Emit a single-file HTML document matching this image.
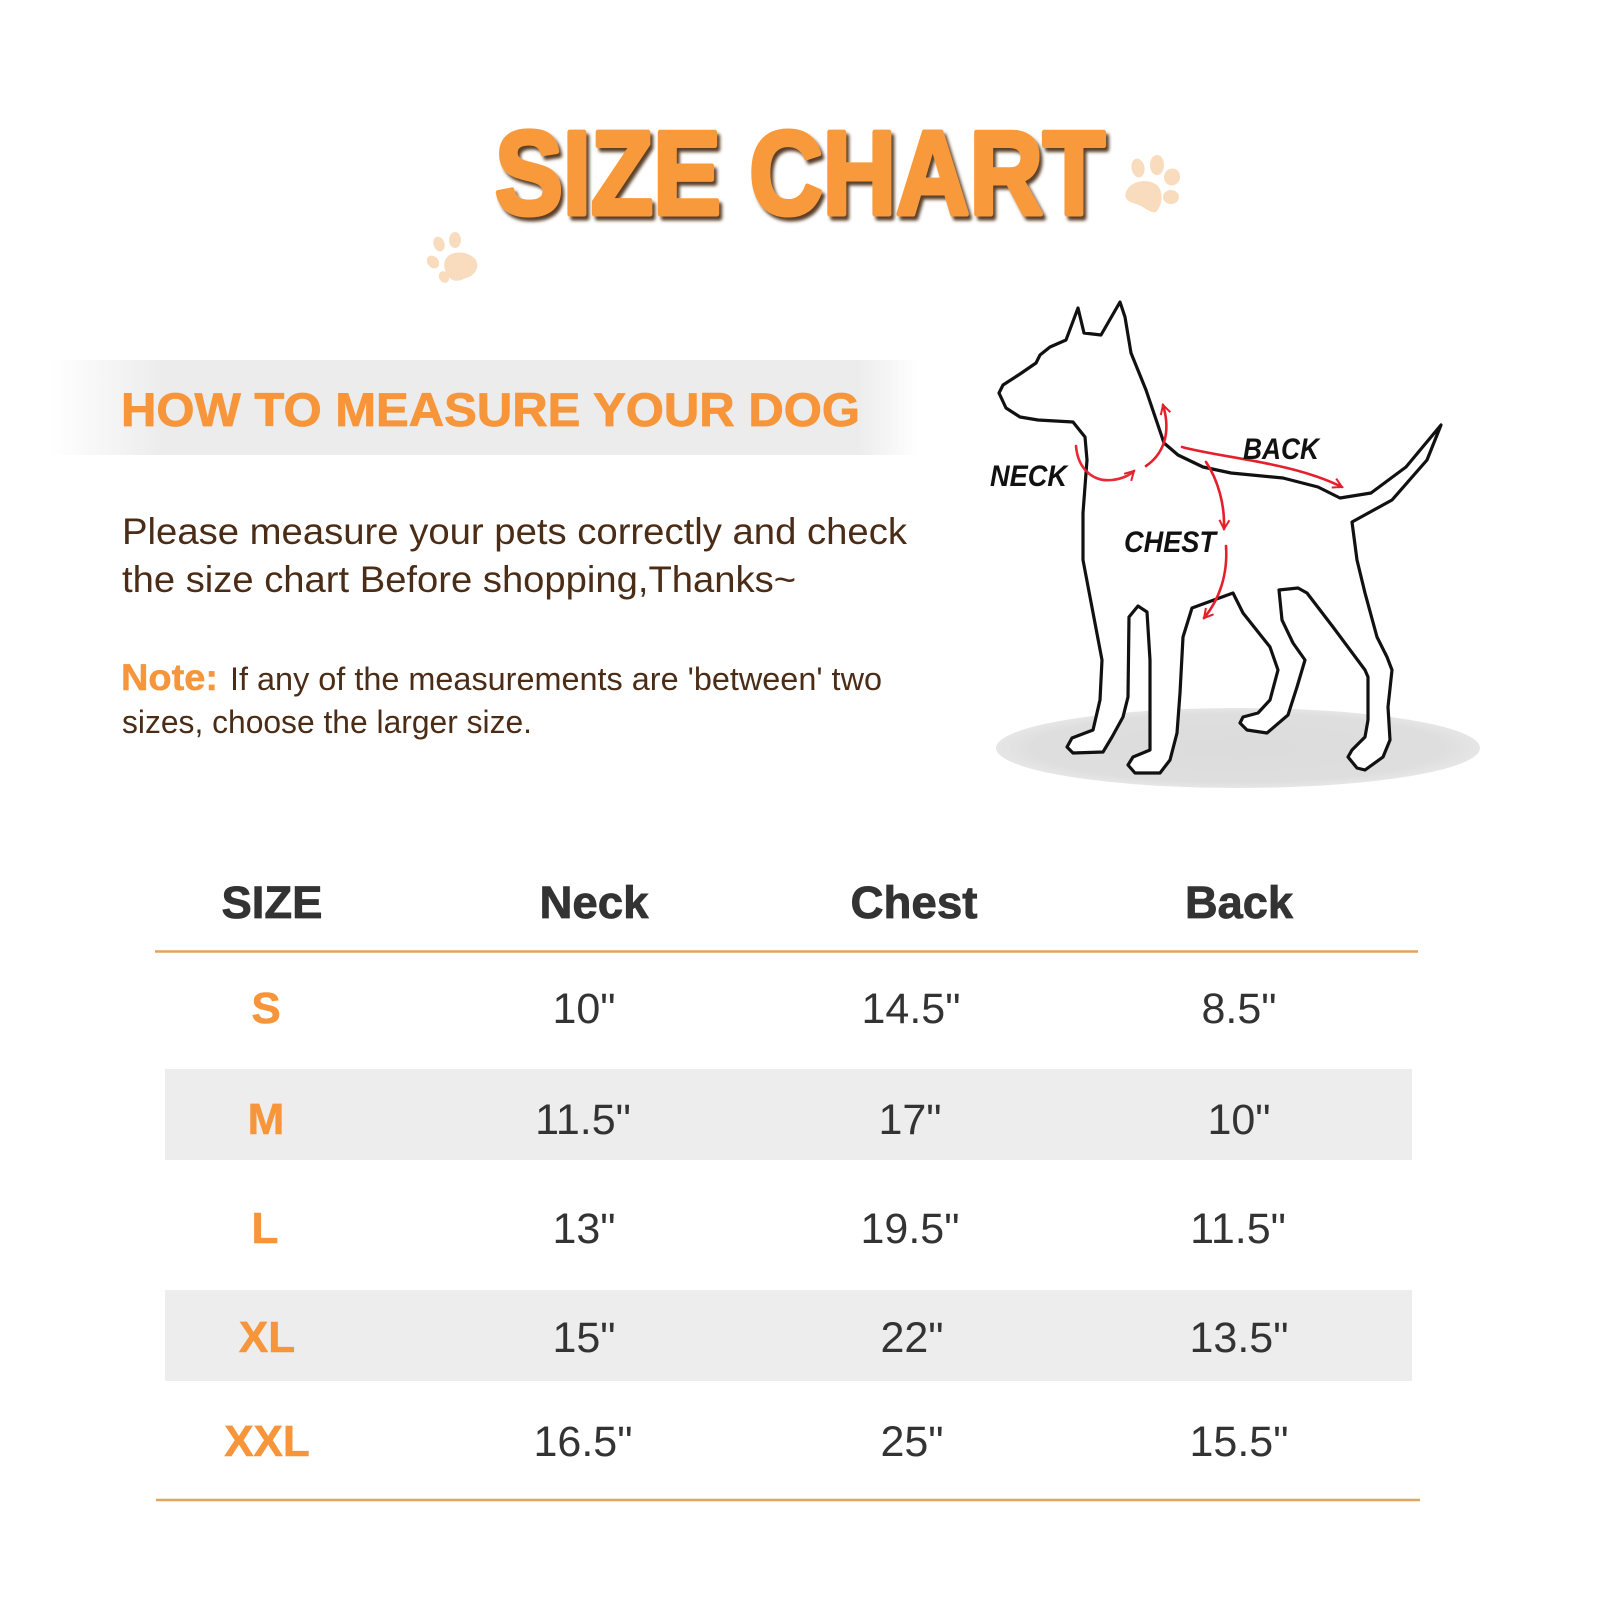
<!DOCTYPE html>
<html>
<head>
<meta charset="utf-8">
<style>
  html,body{margin:0;padding:0;background:#ffffff;}
  body{width:1600px;height:1600px;overflow:hidden;}
  svg{display:block;}
  text{font-family:"Liberation Sans", Arial, sans-serif;}
</style>
</head>
<body>
<svg width="1600" height="1600" viewBox="0 0 1600 1600" xmlns="http://www.w3.org/2000/svg">
  <defs>
    <filter id="ds" x="-5%" y="-20%" width="115%" height="150%">
      <feDropShadow dx="3" dy="4" stdDeviation="1.5" flood-color="#4a2a10" flood-opacity="0.9"/>
    </filter>
    <linearGradient id="band" x1="0" y1="0" x2="1" y2="0">
      <stop offset="0" stop-color="#ececec" stop-opacity="0"/>
      <stop offset="0.13" stop-color="#ececec" stop-opacity="1"/>
      <stop offset="0.93" stop-color="#ececec" stop-opacity="1"/>
      <stop offset="1" stop-color="#ececec" stop-opacity="0"/>
    </linearGradient>
    <radialGradient id="shadow" cx="0.5" cy="0.5" r="0.5">
      <stop offset="0" stop-color="#dcdcdc"/>
      <stop offset="0.85" stop-color="#dedede"/>
      <stop offset="1" stop-color="#e6e6e6"/>
    </radialGradient>
    <marker id="ah" viewBox="0 0 12 12" refX="10" refY="6" markerWidth="12" markerHeight="12" markerUnits="userSpaceOnUse" orient="auto">
      <path d="M1,1 L10,6 L1,11" fill="none" stroke="#e3202b" stroke-width="2"/>
    </marker>
  </defs>

  <!-- Title -->
  <text x="495" y="214" font-size="119" font-weight="bold" fill="#f89a3a" stroke="#f89a3a" stroke-width="5" stroke-linejoin="round" textLength="610" lengthAdjust="spacingAndGlyphs" filter="url(#ds)">SIZE CHART</text>

  <!-- Paws -->
  <g fill="#f9dcbd">
    <ellipse cx="1138" cy="168" rx="6.5" ry="9.5" transform="rotate(-10 1138 168)"/>
    <ellipse cx="1157" cy="165" rx="7" ry="10"/>
    <ellipse cx="1172" cy="177" rx="8" ry="8.5" transform="rotate(20 1172 177)"/>
    <ellipse cx="1171" cy="197" rx="8" ry="7"/>
    <path d="M1127,190 C1132,180 1150,178 1158,186 C1164,194 1162,206 1156,212 C1150,214 1144,206 1136,204 C1126,202 1123,196 1127,190 Z"/>
  </g>
  <g fill="#f9dcbd">
    <ellipse cx="439" cy="244" rx="5.5" ry="7.5" transform="rotate(-20 439 244)"/>
    <ellipse cx="455" cy="240" rx="6" ry="8"/>
    <ellipse cx="433" cy="262" rx="5.5" ry="7" transform="rotate(-40 433 262)"/>
    <ellipse cx="444" cy="277" rx="5" ry="6" transform="rotate(-30 444 277)"/>
    <path d="M448,256 C456,250 470,252 476,260 C480,268 474,276 466,278 C458,282 452,282 448,276 C444,270 442,262 448,256 Z"/>
  </g>

  <!-- Banner -->
  <rect x="50" y="360" width="868" height="95" fill="url(#band)"/>
  <text x="121" y="426" font-size="47" font-weight="bold" fill="#f7953a" stroke="#f7953a" stroke-width="0.8" textLength="739" lengthAdjust="spacingAndGlyphs">HOW TO MEASURE YOUR DOG</text>

  <!-- Paragraph -->
  <text x="122" y="544" font-size="37" fill="#4b2d17" textLength="785" lengthAdjust="spacingAndGlyphs">Please measure your pets correctly and check</text>
  <text x="122" y="592" font-size="37" fill="#4b2d17" textLength="674" lengthAdjust="spacingAndGlyphs">the size chart Before shopping,Thanks~</text>

  <text x="121" y="690" font-size="37" font-weight="bold" fill="#f7953a" stroke="#f7953a" stroke-width="0.5" textLength="97" lengthAdjust="spacingAndGlyphs">Note:</text>
  <text x="230" y="690" font-size="32" fill="#4b2d17" textLength="652" lengthAdjust="spacingAndGlyphs">If any of the measurements are 'between' two</text>
  <text x="122" y="733" font-size="32" fill="#4b2d17" textLength="410" lengthAdjust="spacingAndGlyphs">sizes, choose the larger size.</text>

  <!-- Dog illustration -->
  <ellipse cx="1238" cy="748" rx="242" ry="40" fill="url(#shadow)"/>
  <path fill="#ffffff" stroke="#111111" stroke-width="3.2" stroke-linejoin="round" stroke-linecap="round" d="
    M999,393 L1003,385 L1020,374 L1036,363 L1040,355 L1050,347 L1066,340
    L1078,308 L1084,333 L1101,335 L1120,302 L1125,317 L1131,353 L1146,390
    L1164,443 L1178,455 L1203,467 L1231,473 L1283,478 L1318,487 L1340,498
    L1371,493 L1406,467 L1441,425 L1427,460 L1392,500 L1352,522
    L1357,560 L1365,593 L1377,637 L1387,657 L1392,670 L1388,707 L1390,740
    L1383,757 L1365,770 L1357,768 L1348,757 L1352,750 L1365,737 L1368,720
    L1368,677 L1365,670 L1333,627 L1307,593 L1298,588 L1279,590 L1282,620
    L1293,643 L1305,660 L1297,687 L1288,715 L1267,733 L1247,730 L1240,723
    L1243,717 L1258,713 L1270,700 L1278,670 L1270,647 L1243,613 L1233,593
    L1192,608 L1183,637 L1180,693 L1177,733 L1170,760 L1160,773 L1135,773
    L1128,765 L1133,757 L1150,750 L1150,660 L1147,612 L1138,606 L1129,617
    L1128,697 L1123,717 L1112,737 L1103,752 L1073,753 L1067,747 L1072,738
    L1093,730 L1100,700 L1102,660 L1083,560 L1083,513 L1087,460 L1085,437
    L1073,422 L1038,420 L1020,417 L1006,408 Z"/>

  <!-- Red measuring arrows -->
  <g fill="none" stroke="#e3202b" stroke-width="2.6" stroke-linecap="round">
    <path d="M1076,446 C1078,470 1094,482 1112,480 C1122,479 1130,475 1134,471" marker-end="url(#ah)" stroke-opacity="0.95"/>
    <path d="M1146,466 C1162,455 1172,435 1163,405" marker-end="url(#ah)"/>
    <path d="M1182,447 C1222,458 1292,462 1342,487" marker-end="url(#ah)"/>
    <path d="M1206,462 C1218,480 1225,505 1224,529" marker-end="url(#ah)"/>
    <path d="M1226,546 C1228,575 1219,600 1204,618" marker-end="url(#ah)"/>
  </g>
  <g font-size="30" font-weight="bold" font-style="italic" fill="#111111">
    <text x="990" y="486" textLength="77" lengthAdjust="spacingAndGlyphs">NECK</text>
    <text x="1243" y="459" textLength="76" lengthAdjust="spacingAndGlyphs">BACK</text>
    <text x="1124" y="552" textLength="92" lengthAdjust="spacingAndGlyphs">CHEST</text>
  </g>

  <!-- Table -->
  <rect x="165" y="1069" width="1247" height="91" fill="#ededed"/>
  <rect x="165" y="1290" width="1247" height="91" fill="#ededed"/>
  <line x1="155" y1="951.5" x2="1418" y2="951.5" stroke="#e2a35f" stroke-width="2.4"/>
  <line x1="156" y1="1500" x2="1420" y2="1500" stroke="#e2a35f" stroke-width="2.4"/>

  <g font-size="45" font-weight="bold" fill="#333333" stroke="#333333" stroke-width="0.8" text-anchor="middle">
    <text x="272" y="918" textLength="101" lengthAdjust="spacingAndGlyphs">SIZE</text>
    <text x="594" y="918" textLength="109" lengthAdjust="spacingAndGlyphs">Neck</text>
    <text x="914" y="918" textLength="127" lengthAdjust="spacingAndGlyphs">Chest</text>
    <text x="1239" y="918" textLength="108" lengthAdjust="spacingAndGlyphs">Back</text>
  </g>

  <g font-size="44" font-weight="bold" fill="#f7953a" stroke="#f7953a" stroke-width="0.6" text-anchor="middle">
    <text x="266" y="1023">S</text>
    <text x="266" y="1134">M</text>
    <text x="265" y="1243">L</text>
    <text x="267" y="1352">XL</text>
    <text x="267" y="1456">XXL</text>
  </g>

  <g font-size="43" fill="#333333" text-anchor="middle">
    <text x="584" y="1023">10"</text>
    <text x="911" y="1023">14.5"</text>
    <text x="1239" y="1023">8.5"</text>

    <text x="583" y="1134">11.5"</text>
    <text x="910" y="1134">17"</text>
    <text x="1239" y="1134">10"</text>

    <text x="584" y="1243">13"</text>
    <text x="910" y="1243">19.5"</text>
    <text x="1238" y="1243">11.5"</text>

    <text x="584" y="1352">15"</text>
    <text x="912" y="1352">22"</text>
    <text x="1239" y="1352">13.5"</text>

    <text x="583" y="1456">16.5"</text>
    <text x="912" y="1456">25"</text>
    <text x="1239" y="1456">15.5"</text>
  </g>
</svg>
</body>
</html>
